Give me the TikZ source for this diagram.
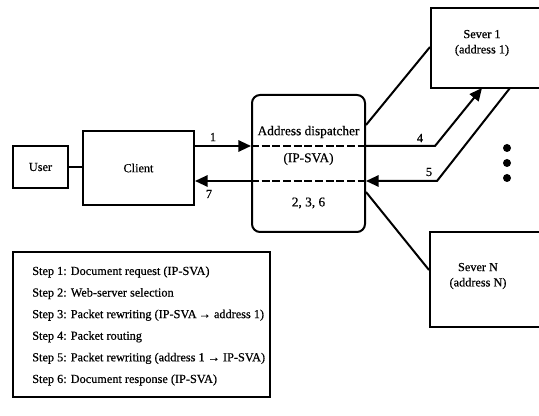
\documentclass[tikz,border=0pt]{standalone}
\usepackage{fontspec}
\setmainfont{Liberation Serif}[FakeBold=0.5]
\usetikzlibrary{arrows.meta}
\begin{document}
\begin{tikzpicture}[x=0.75pt,y=-0.75pt,
  box/.style={draw, line width=1.5pt, inner sep=0pt},
  conn/.style={line width=1.5pt},
  arr/.style={conn, -{Triangle[length=9.5pt,width=8.5pt]}},
  txt/.style={font=\fontsize{9.2}{11.5}\selectfont, inner sep=0pt},
  big/.style={font=\fontsize{10}{12}\selectfont, inner sep=0pt},
  dashline/.style={line width=1.5pt, dash pattern=on 6pt off 2pt},
  dot/.style={fill=black, circle, inner sep=0pt, minimum size=6pt},
]
\useasboundingbox (0,0) rectangle (539,416);
\begin{scope}
\clip (0,0) rectangle (539,416);
% boxes
\node[box, minimum width=41.25pt, minimum height=31.5pt] (user) at (40.5,167) {};
\node[txt] (usert) at (user.center) {User};
\node[box, minimum width=83.25pt, minimum height=55.5pt] (client) at (138.5,168) {};
\node[txt] (clientt) at (client.center) {Client};
\node[box, rounded corners=6pt, minimum width=84.75pt, minimum height=102.75pt] (disp) at (308.5,163.5) {};
\node[big] (dispa) at (308.5,132) {Address dispatcher};
\node[big] (dispb) at (308.5,159) {(IP-SVA)};
\node[big] (dispc) at (308.5,203) {2, 3, 6};
\node[box, minimum width=126.75pt, minimum height=60pt] (srv1) at (515.5,48) {};
\node[txt, align=center] (srv1t) at (482,43) {Sever 1\\(address 1)};
\node[box, minimum width=127.5pt, minimum height=71.25pt] (srvN) at (515,279.5) {};
\node[txt, align=center] (srvNt) at (478,276) {Sever N\\(address N)};
% levels
\coordinate (yreq) at (0,146);
\coordinate (yresp) at (0,181);
\coordinate (b4) at (435,146);
\coordinate (t4) at (482,88);
\coordinate (s5) at (510,88);
\coordinate (b5) at (437,181);
% connectors
\draw[conn] (user.east) -- (user.east -| client.west);
\draw[arr] (client.east |- yreq) -- (disp.west |- yreq);
\draw[arr] (disp.west |- yresp) -- (client.east |- yresp);
\draw[dashline] (disp.west |- yreq) -- (disp.east |- yreq);
\draw[dashline] (disp.west |- yresp) -- (disp.east |- yresp);
\draw[arr] (disp.east |- yreq) -- (b4) -- (t4);
\draw[arr] (s5) -- (b5) -- (disp.east |- yresp);
\draw[conn] (disp.east |- 0,125) -- (srv1.west |- 0,47);
\draw[conn] (disp.east |- 0,192) -- (srvN.west |- 0,270);
% labels
\node[txt] (l1) at (213,137) {1};
\node[txt] (l7) at (209,194) {7};
\node[txt] (l4) at (420,138) {4};
\node[txt] (l5) at (429,172) {5};
% dots
\node[dot] (d1) at (507,148) {};
\node[dot] (d2) at (507,163) {};
\node[dot] (d3) at (507,178) {};
% legend
\node[box, minimum width=192.75pt, minimum height=108.75pt] (legend) at (141.5,324.5) {};
\node[txt, anchor=west] (s1) at (32,272) {Step 1: Document request (IP-SVA)};
\node[txt, anchor=west] (s2) at (32,293.6) {Step 2: Web-server selection};
\node[txt, anchor=west] (s3) at (32,315.2) {Step 3: Packet rewriting (IP-SVA\,→ address 1)};
\node[txt, anchor=west] (s4) at (32,336.8) {Step 4: Packet routing};
\node[txt, anchor=west] (s5t) at (32,358.4) {Step 5: Packet rewriting (address 1 → IP-SVA)};
\node[txt, anchor=west] (s6) at (32,380) {Step 6: Document response (IP-SVA)};
\end{scope}
\end{tikzpicture}
\end{document}
